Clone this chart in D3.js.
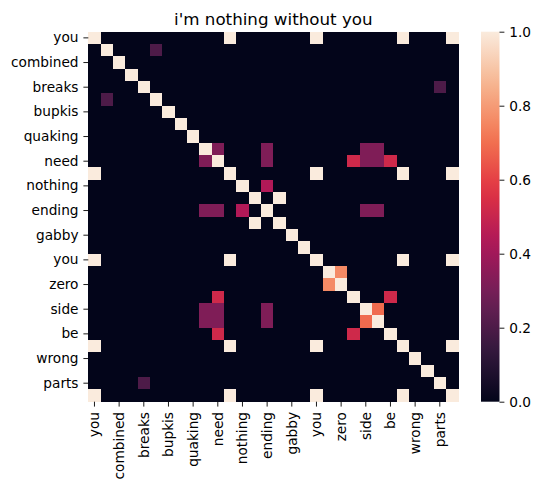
<!DOCTYPE html>
<html>
<head>
<meta charset="utf-8">
<script src="https://cdn.jsdelivr.net/npm/d3@7"></script>
<style>
body{margin:0;background:#fff;}
text{font-family:"DejaVu Sans",sans-serif;fill:#000;}
</style>
</head>
<body>
<div id="chart"></div>
<script>
// words along both axes (odd ones are hidden by seaborn's tick thinning)
var words = ["you","i","combined","am","breaks","my","bupkis","and","quaking","i","need","you","nothing","but","ending","but","gabby","and","you","one","zero","to","side","by","be","you","wrong","the","parts","you"];
var tickIdx = [0,2,4,6,8,10,12,14,16,18,20,22,24,26,28];
// off-diagonal similarities [row, col, value], mirrored below
var pairs = [
	[0,11,1],[0,18,1],[0,25,1],[0,29,1],[11,18,1],[11,25,1],[11,29,1],[18,25,1],[18,29,1],[25,29,1],
	[13,15,1],
	[1,5,0.2],[4,28,0.2],
	[9,10,0.32],[9,14,0.32],[10,14,0.32],
	[9,22,0.32],[9,23,0.32],[10,22,0.32],[10,23,0.32],
	[10,21,0.52],[10,24,0.52],[21,24,0.52],
	[12,14,0.44],
	[14,22,0.32],[14,23,0.32],
	[19,20,0.76],[22,23,0.69]
];
var cbTicks = [0,0.2,0.4,0.6,0.8,1.0];
var title = "i'm nothing without you";

// rocket colormap stops
var rocketStops = ["#03051a","#35193e","#701f57","#ad1759","#e13342","#f37651","#f6b48f","#faebdd"];
var rocket = d3.scaleLinear()
	.domain(d3.range(rocketStops.length).map(function(i){return i/(rocketStops.length-1);}))
	.range(rocketStops)
	.interpolate(d3.interpolateRgb)
	.clamp(true);

var n = words.length;
var matrix = d3.range(n).map(function(i){
	return d3.range(n).map(function(j){return i==j ? 1 : 0;});
});
pairs.forEach(function(p){
	matrix[p[0]][p[1]] = p[2];
	matrix[p[1]][p[0]] = p[2];
});
var cells = [];
matrix.forEach(function(row,i){
	row.forEach(function(v,j){cells.push({r:i,c:j,v:v});});
});

var W = 541, H = 490;
var mLeft = 88.3, mTop = 31.7, size = 370;
var fs = 13.7;

var svg = d3.select("#chart").append("svg")
	.attr("width", W)
	.attr("height", H);

var x = d3.scaleBand().domain(d3.range(n)).range([mLeft, mLeft+size]);
var y = d3.scaleBand().domain(d3.range(n)).range([mTop, mTop+size]);

svg.append("g").selectAll("rect")
	.data(cells)
	.enter().append("rect")
	.attr("x", function(d){return x(d.c);})
	.attr("y", function(d){return y(d.r);})
	.attr("width", x.bandwidth()+0.3)
	.attr("height", y.bandwidth()+0.3)
	.attr("fill", function(d){return rocket(d.v);})
	.attr("shape-rendering","crispEdges");

var fmtWord = function(i){return words[i];};

var yAxis = svg.append("g")
	.attr("transform","translate("+mLeft+",0)")
	.call(d3.axisLeft(y).tickValues(tickIdx).tickFormat(fmtWord).tickSize(4.9).tickPadding(4.9));
var xAxis = svg.append("g")
	.attr("transform","translate(0,"+(mTop+size)+")")
	.call(d3.axisBottom(x).tickValues(tickIdx).tickFormat(fmtWord).tickSize(4.9).tickPadding(4.9));

[yAxis,xAxis].forEach(function(a){
	a.select(".domain").remove();
	a.selectAll("line").attr("stroke","#000").attr("stroke-width",0.9);
	a.selectAll("text").style("font-size",fs+"px").attr("fill","#000");
});
xAxis.selectAll("text")
	.attr("text-anchor","end")
	.attr("dy","0.35em")
	.attr("transform", function(){return "translate(0,"+(10.3)+") rotate(-90)";})
	.attr("x",0).attr("y",0);

// colorbar
var cbX = 481, cbW = 18.5;
var cy = d3.scaleLinear().domain([0,1]).range([mTop+size, mTop]);
var grad = svg.append("defs").append("linearGradient")
	.attr("id","cbgrad").attr("x1","0").attr("y1","1").attr("x2","0").attr("y2","0");
d3.range(0,1.0001,0.05).forEach(function(t){
	grad.append("stop").attr("offset",t).attr("stop-color",rocket(t));
});
svg.append("rect")
	.attr("x",cbX).attr("y",mTop)
	.attr("width",cbW).attr("height",size)
	.attr("fill","url(#cbgrad)");
var cAxis = svg.append("g")
	.attr("transform","translate("+(cbX+cbW)+",0)")
	.call(d3.axisRight(cy).tickValues(cbTicks).tickFormat(d3.format(".1f")).tickSize(4.9).tickPadding(4.9));
cAxis.select(".domain").remove();
cAxis.selectAll("line").attr("stroke","#000").attr("stroke-width",0.9);
cAxis.selectAll("text").style("font-size",fs+"px").attr("fill","#000");

svg.append("text")
	.attr("x", mLeft+size/2)
	.attr("y", 24.5)
	.attr("text-anchor","middle")
	.style("font-size","16.7px")
	.text(title);
</script>
</body>
</html>
